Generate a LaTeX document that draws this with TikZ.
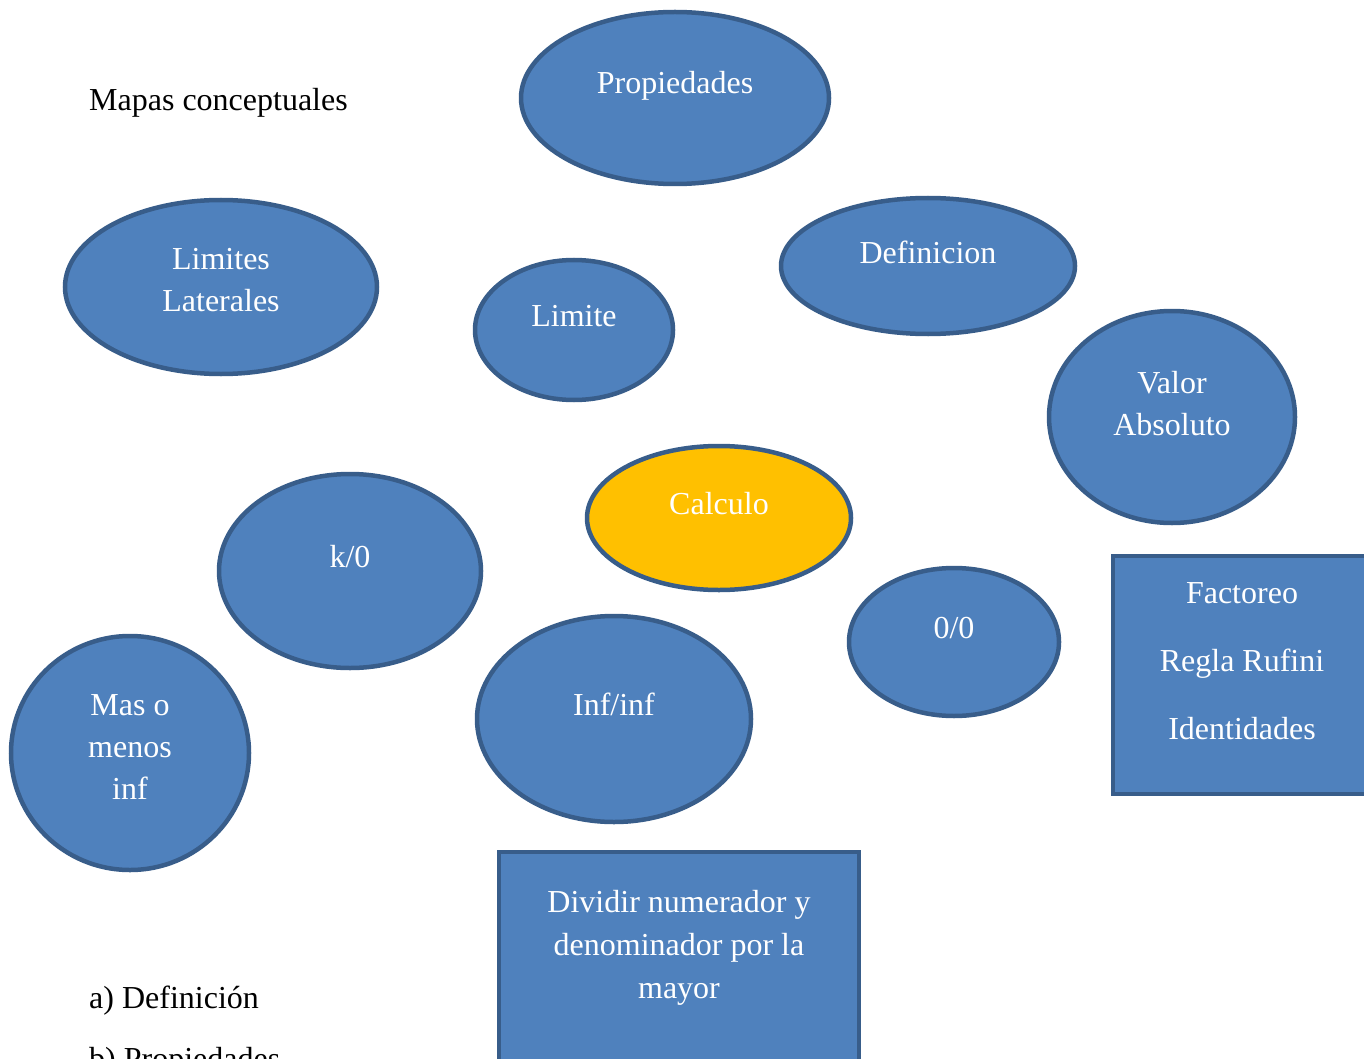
\documentclass[tikz,border=0pt]{standalone}
\usepackage{fontspec}
\setmainfont{Liberation Serif}
\usepackage{xcolor}
\definecolor{azul}{RGB}{79,129,189}
\definecolor{borde}{RGB}{56,93,138}
\definecolor{amarillo}{RGB}{255,192,0}

\begin{document}
\begin{tikzpicture}[x=1pt,y=-1pt,
    bubble/.style={fill=azul,draw=borde,line width=4.5pt},
    txt/.style={text=white,font=\fontsize{32}{42}\selectfont,align=center,anchor=base,inner sep=0pt},
    plain/.style={font=\fontsize{32}{42}\selectfont,anchor=base west,inner sep=0pt}]
        % marco
        \useasboundingbox (0,0) rectangle (1364,1059);
        \fill[white] (0,0) rectangle (1364,1059);

        % titulo
        \node[plain] (titulo) at (89,111) {Mapas conceptuales};

        % elipses
        \filldraw[bubble] (675,98) ellipse (154pt and 86pt);
        \node[txt] (prop) at (675,94) {Propiedades};

        \filldraw[bubble] (221,287) ellipse (156pt and 87pt);
        \node[txt] (lat) at (221,311) {Limites\\Laterales};

        \filldraw[bubble] (574,330) ellipse (99pt and 70pt);
        \node[txt] (lim) at (574,326) {Limite};

        \filldraw[bubble] (928,266) ellipse (147pt and 68pt);
        \node[txt] (defi) at (928,263) {Definicion};

        \filldraw[bubble] (1172,417) ellipse (123pt and 106pt);
        \node[txt] (abs) at (1172,435) {Valor\\Absoluto};

        \filldraw[bubble,fill=amarillo] (719,518) ellipse (132pt and 72pt);
        \node[txt] (calc) at (719,514) {Calculo};

        \filldraw[bubble] (350,571) ellipse (131pt and 97pt);
        \node[txt] (k0) at (350,567) {k/0};

        \filldraw[bubble] (954,642) ellipse (105pt and 74pt);
        \node[txt] (cero) at (954,638) {0/0};

        \filldraw[bubble] (130,753) ellipse (119pt and 117pt);
        \node[txt] (inf) at (130,799) {Mas o\\menos\\inf};

        \filldraw[bubble] (614,719) ellipse (137pt and 103pt);
        \node[txt] (infinf) at (614,715) {Inf/inf};

        % cajas
        \filldraw[bubble] (1113,556) rectangle (1390,794);
        \node[txt,font=\fontsize{32}{68}\selectfont] (fact) at (1242,739) {Factoreo\\Regla Rufini\\Identidades};

        \filldraw[bubble] (499,852) rectangle (859,1090);
        \node[txt,font=\fontsize{32}{43}\selectfont] (div) at (679,998) {Dividir numerador y\\denominador por la\\mayor};

        % lista
        \node[plain] (itema) at (89,1008) {a) Definición};
        \node[plain] (itemb) at (89,1069) {b) Propiedades};
      \end{tikzpicture}
\end{document}
